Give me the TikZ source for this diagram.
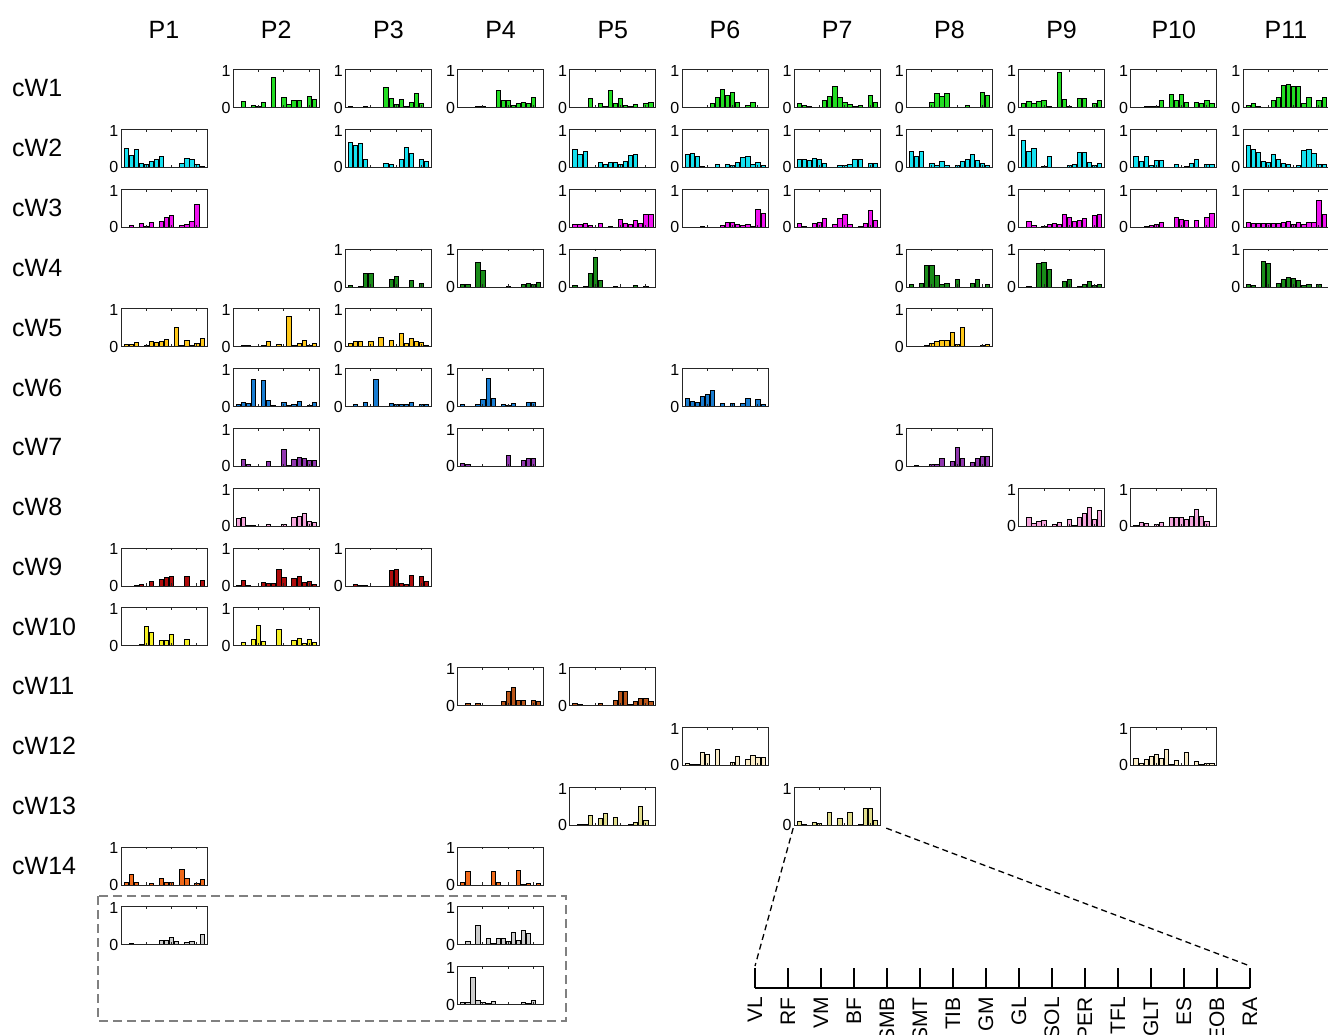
\documentclass[tikz,border=0pt]{standalone}
\usepackage{fontspec}
\setmainfont{Liberation Sans}
\definecolor{cA}{RGB}{34,221,34}
\definecolor{cB}{RGB}{20,225,240}
\definecolor{cC}{RGB}{240,20,240}
\definecolor{cD}{RGB}{25,140,25}
\definecolor{cE}{RGB}{255,200,25}
\definecolor{cF}{RGB}{25,125,210}
\definecolor{cG}{RGB}{145,55,175}
\definecolor{cH}{RGB}{245,165,220}
\definecolor{cI}{RGB}{175,12,12}
\definecolor{cJ}{RGB}{245,240,35}
\definecolor{cK}{RGB}{185,85,25}
\definecolor{cL}{RGB}{250,236,200}
\definecolor{cM}{RGB}{225,222,140}
\definecolor{cN}{RGB}{240,105,25}
\definecolor{cO}{RGB}{205,205,205}
\tikzset{
  frame/.style={draw=black!85, line width=0.8pt},
  barstyle/.style={draw=black, line width=0.6pt},
  ticklab/.style={font=\fontsize{16}{16}\selectfont, inner sep=0pt, anchor=east},
  headlab/.style={font=\fontsize{25}{25}\selectfont, inner sep=0pt},
  rowlab/.style={font=\fontsize{25}{25}\selectfont, anchor=west, inner sep=0pt},
  axlab/.style={font=\fontsize{21}{21}\selectfont, rotate=90, anchor=east, inner sep=0pt},
  axisline/.style={draw=black, line width=2pt},
  zoomline/.style={draw=black, line width=1.3pt, dash pattern=on 6pt off 4pt},
  selbox/.style={draw=black!50, line width=2.2pt, dash pattern=on 9pt off 5pt},
}
\newcommand\barchart[4]{%
  \pgfmathsetmacro\chx{121+112.2*(#1-1)}%
  \pgfmathsetmacro\chy{69.5+59.8*(#2-1)}%
  \begin{scope}[shift={(\chx,\chy)}]
    \foreach \hv [count=\kk] in {#4} {%
      \ifdim \hv pt>0.001pt
        \path[barstyle, fill=#3] ({(\kk-0.42)*86/17},38) rectangle ({(\kk+0.42)*86/17},{38-38*\hv});
      \fi
    }
    \node[frame, minimum width=86pt, minimum height=38pt, inner sep=0pt, outer sep=0pt, anchor=north west] (ch-#1-#2) at (0,0) {};
    \foreach \tx in {5,10,15} {
      \draw[frame] ({\tx*86/17},0) -- ++(0,2.5);
      \draw[frame] ({\tx*86/17},38) -- ++(0,-2.5);
    }
    \node[ticklab] (t1-#1-#2) at (-2.5,1.5) {1};
    \node[ticklab] (t0-#1-#2) at (-2.5,38) {0};
  \end{scope}
}
\begin{document}
\begin{tikzpicture}[x=1pt,y=-1pt]
\useasboundingbox (0,0) rectangle (1328,1034);
\clip (0,0) rectangle (1328,1034);
% column headers
\foreach \c in {1,...,11} {
  \node[headlab] (P\c) at ({121+112.2*(\c-1)+43},30) {P\c};
}
% row labels
\foreach \r in {1,...,14} {
  \node[rowlab] (cW\r) at (12,{69.5+59.8*(\r-1)+19}) {cW\r};
}
% cW1
\barchart{2}{1}{cA}{0,.17,0,.05,.04,.15,0,.8,0,.27,.08,.19,.2,0,.3,.22}
\barchart{3}{1}{cA}{.02,.01,0,.03,0,0,0,.52,.25,.08,.22,.03,.15,.37,.12,.01}
\barchart{4}{1}{cA}{0,0,0,.03,.02,0,0,.45,.2,.2,.05,.1,.14,.1,.28,0}
\barchart{5}{1}{cA}{0,.01,0,.23,0,.1,.04,.45,.1,.23,.06,.03,.08,0,.12,.13}
\barchart{6}{1}{cA}{.01,0,0,.01,0,.1,.27,.47,.32,.4,.15,.01,.05,.13,.01,0}
\barchart{7}{1}{cA}{.1,.06,.03,0,0,.2,.3,.57,.27,.13,.08,.02,.05,0,.33,.13}
\barchart{8}{1}{cA}{.01,.01,0,0,.13,.38,.3,.37,0,0,.01,.05,0,0,.4,.33}
\barchart{9}{1}{cA}{.1,.17,.1,.17,.19,.02,0,.93,.22,.04,0,.23,.25,0,.12,.18}
\barchart{10}{1}{cA}{0,0,.03,.02,.03,.2,0,.36,.2,.36,.14,0,.13,.12,.2,.1}
\barchart{11}{1}{cA}{.05,.1,.04,.01,0,.18,.28,.58,.6,.57,.57,.12,.27,0,.18,.27}
% cW2
\barchart{1}{2}{cB}{.5,.32,.47,.11,.08,.17,.22,.28,0,.01,0,.11,.25,.22,.07,.03}
\barchart{3}{2}{cB}{.65,.57,.62,.22,0,0,0,.1,.07,0,.2,.52,.38,0,.2,.17}
\barchart{5}{2}{cB}{.48,.35,.42,0,0,.13,.07,.13,.13,.08,.15,.32,.34,0,.01,.01}
\barchart{6}{2}{cB}{.33,.37,.3,.03,0,0,.07,0,.08,.04,.12,.27,.28,.07,.13,.04}
\barchart{7}{2}{cB}{.2,.21,.19,.23,.22,.1,0,0,.04,.06,.07,.2,.22,0,.1,.1}
\barchart{8}{2}{cB}{.42,.3,.43,0,.1,.04,.17,.05,0,.06,.17,.21,.35,.18,.1,.04}
\barchart{9}{2}{cB}{.7,.42,.5,0,.02,.3,0,0,0,.05,.07,.4,.4,.13,.06,.1}
\barchart{10}{2}{cB}{.3,.17,.28,.04,.18,.18,0,0,.07,0,.03,.1,.22,0,.08,.07}
\barchart{11}{2}{cB}{.58,.48,.4,.15,.13,.35,.22,.1,.07,0,.06,.45,.48,.38,.08,.07}
% cW3
\barchart{1}{3}{cC}{0,.06,0,.1,.03,.12,0,.14,.25,.3,0,.06,.08,.14,.6,0}
\barchart{5}{3}{cC}{.08,.08,.09,.04,0,.1,0,.02,0,.2,.1,.08,.18,.1,.33,.33}
\barchart{6}{3}{cC}{0,0,0,.02,0,0,0,.05,.13,.13,.07,.04,.08,.03,.47,.37}
\barchart{7}{3}{cC}{.09,.03,0,.11,.12,.22,0,.07,.23,.33,.07,0,.01,.1,.43,.18}
\barchart{9}{3}{cC}{0,.15,.06,0,.02,.08,.1,.08,.33,.25,.14,.18,.22,0,.32,.35}
\barchart{10}{3}{cC}{0,0,.03,.05,.07,.12,0,0,.25,.2,.17,0,.17,0,.27,.37}
\barchart{11}{3}{cC}{.12,.1,.09,.1,.1,.1,.1,.13,.14,.08,.12,.08,.12,.13,.7,.35}
% cW4
\barchart{3}{4}{cD}{.05,0,.02,.35,.37,0,0,0,.2,.27,0,0,.18,0,.1,0}
\barchart{4}{4}{cD}{.07,.07,0,.65,.45,0,0,0,0,.01,0,0,.07,.1,.06,.13}
\barchart{5}{4}{cD}{.05,0,.02,.35,.78,.18,0,0,.01,0,0,0,.03,0,.02,0}
\barchart{8}{4}{cD}{.08,0,.1,.58,.57,.3,.08,.1,0,.2,0,0,.1,.2,0,.07}
\barchart{9}{4}{cD}{0,.02,0,.62,.65,.47,0,0,.14,.19,0,.02,.06,.14,.03,.08}
\barchart{11}{4}{cD}{.08,.05,0,.68,.62,0,.1,.2,.24,.22,.17,.05,.08,0,.08,0}
% cW5
\barchart{1}{5}{cE}{.07,.07,.12,0,.03,.13,.12,.14,.19,0,.52,.05,.17,.03,.1,.23}
\barchart{2}{5}{cE}{0,.05,.04,0,0,.04,.13,0,.06,0,.8,.04,.1,.17,.05,.1}
\barchart{3}{5}{cE}{.1,.13,.13,0,.13,.02,.25,0,.17,0,.35,.1,.23,.15,.11,.05}
\barchart{8}{5}{cE}{0,.02,0,.05,.08,.14,.18,.17,.37,.07,.5,.02,.01,0,.04,.06}
% cW6
\barchart{2}{6}{cF}{.05,.1,.09,.72,0,.7,.16,.04,0,.1,.03,.07,.13,0,.03,.1}
\barchart{3}{6}{cF}{.01,.05,0,.12,0,.72,0,.01,.08,.07,.06,.06,.1,0,.05,.05}
\barchart{4}{6}{cF}{.06,0,0,.05,.2,.73,.22,0,.06,.02,.08,0,0,.1,.12,0}
\barchart{6}{6}{cF}{.22,.15,.1,.26,.33,.42,0,.08,0,.08,0,.08,.22,0,.2,.07}
% cW7
\barchart{2}{7}{cG}{0,.18,.04,0,.01,0,.12,0,0,.45,.02,.18,.25,.2,.17,.17}
\barchart{4}{7}{cG}{.07,.06,0,0,0,0,0,0,0,.3,0,0,.15,.2,.2,0}
\barchart{8}{7}{cG}{.01,.02,0,0,.04,.06,.22,0,.12,.5,.2,0,.1,.22,.27,.27}
% cW8
\barchart{2}{8}{cH}{.2,.24,.02,.02,0,0,.06,0,0,.05,0,.22,.25,.35,.13,.1}
\barchart{9}{8}{cH}{0,.22,.07,.12,.14,0,.06,.1,0,.17,.02,.22,.33,.5,.17,.42}
\barchart{10}{8}{cH}{.01,.1,.07,0,.04,.1,0,.22,.22,.23,.18,.27,.45,.26,.12,0}
% cW9
\barchart{1}{9}{cI}{0,0,.02,.04,0,.13,0,.17,.22,.24,0,0,.26,0,0,.16}
\barchart{2}{9}{cI}{.01,.16,.01,0,0,.1,.08,.08,.45,.22,0,.19,.25,.1,.12,.05}
\barchart{3}{9}{cI}{0,.03,.02,.02,0,0,0,0,.4,.44,.08,.05,.28,0,.25,.12}
% cW10
\barchart{1}{10}{cJ}{.01,0,.02,.04,.52,.34,0,.14,.15,.3,0,0,.17,0,0,0}
\barchart{2}{10}{cJ}{0,.08,0,.17,.55,.12,0,0,.43,0,0,.15,.2,.07,.17,.08}
% cW11
\barchart{4}{11}{cK}{0,.05,0,.05,0,0,0,0,.12,.37,.47,.15,.15,0,.15,.1}
\barchart{5}{11}{cK}{.05,.03,0,0,0,.06,0,0,.15,.38,.38,.03,.1,.2,.2,.1}
% cW12
\barchart{6}{12}{cL}{.05,.02,.02,.35,.28,0,.42,0,0,.08,.25,0,.16,.27,.2,.2}
\barchart{10}{12}{cL}{.18,.05,.15,.25,.28,.18,.42,.03,.12,0,.33,0,.1,.02,.04,.04}
% cW13
\barchart{5}{13}{cM}{0,.02,.03,.25,0,.17,.3,0,.2,0,0,.02,.07,.5,.12,0}
\barchart{7}{13}{cM}{.1,.02,0,.08,.06,0,.33,0,.18,0,.35,0,.03,.45,.45,.12}
% cW14
\barchart{1}{14}{cN}{.06,.28,.08,0,0,.05,0,.18,.07,.07,0,.42,.18,0,.04,.15}
\barchart{4}{14}{cN}{.07,.36,0,0,0,0,.35,.08,0,0,0,.38,.02,.03,0,.04}
% grey rows
\barchart{1}{15}{cO}{0,.05,0,0,0,0,0,.12,.12,.2,.08,0,.06,.08,0,.28}
\barchart{4}{15}{cO}{0,.08,.02,.5,0,.17,.03,.17,.17,.1,.32,.12,.37,.3,0,0}
\barchart{4}{16}{cO}{.07,.07,.72,.1,.05,.03,.08,0,0,0,0,0,.05,.03,.12,0}
% selection box
\draw[selbox] (98,896) rectangle (566,1021);
% zoomed axis
\coordinate (ax0) at (755,988);
\coordinate (ax15) at (1250,988);
\draw[axisline] (ax0) -- (ax15);
\foreach \lab [count=\i from 0] in {VL,RF,VM,BF,SMB,SMT,TIB,GM,GL,SOL,PER,TFL,GLT,ES,EOB,RA} {
  \coordinate (tk\i) at ({755+33*\i},968);
  \draw[axisline] ({755+33*\i},988) -- (tk\i);
  \node[axlab] (ml\i) at ({755+33*\i},997) {\lab};
}
\draw[zoomline] ([shift={(-1,3)}]ch-7-13.south west) -- ([shift={(0,-2)}]tk0);
\draw[zoomline] ([shift={(6,3)}]ch-7-13.south east) -- ([shift={(0,-2)}]tk15);
\end{tikzpicture}
\end{document}
